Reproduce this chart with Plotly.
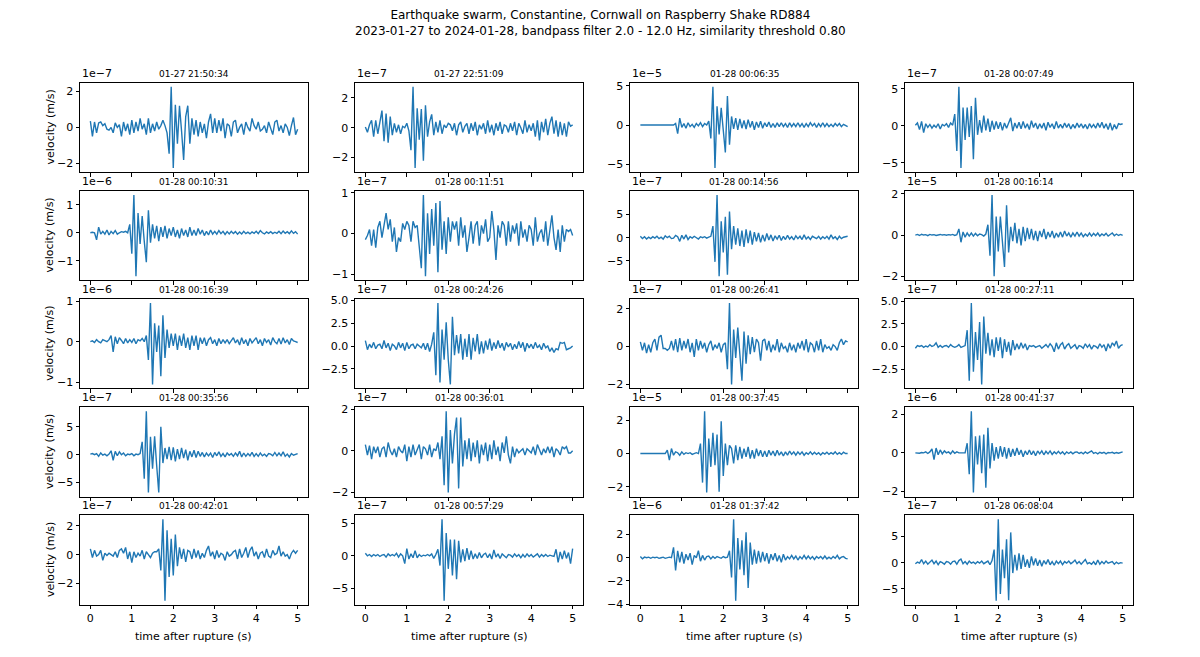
import numpy as np
import plotly.graph_objects as go

W, H = 1200, 657

suptitle = ("Earthquake swarm, Constantine, Cornwall on Raspberry Shake RD884<br>"
            "2023-01-27 to 2024-01-28, bandpass filter 2.0 - 12.0 Hz, similarity threshold 0.80")

event_times = ["01-27 21:50:34", "01-27 22:51:09", "01-28 00:06:35", "01-28 00:07:49",
               "01-28 00:10:31", "01-28 00:11:51", "01-28 00:14:56", "01-28 00:16:14",
               "01-28 00:16:39", "01-28 00:24:26", "01-28 00:26:41", "01-28 00:27:11",
               "01-28 00:35:56", "01-28 00:36:01", "01-28 00:37:45", "01-28 00:41:37",
               "01-28 00:42:01", "01-28 00:57:29", "01-28 01:37:42", "01-28 06:08:04"]

# scale exponent of each trace (values below are in units of 10**exp m/s)
exponents = [-7, -7, -5, -7, -6, -7, -7, -5, -6, -7, -7, -7, -7, -7, -5, -6, -7, -7, -6, -7]

# y tick values (in scaled units) and labels
yticks = [[-2, 0, 2], [-2, 0, 2], [-5, 0, 5], [-5, 0, 5],
          [-1, 0, 1], [-1, 0, 1], [-5, 0, 5], [-2, 0, 2],
          [-1, 0, 1], [-2.5, 0, 2.5, 5], [-2, 0, 2], [-2.5, 0, 2.5, 5],
          [-5, 0, 5], [-2, 0, 2], [-2, 0, 2], [-2, 0, 2],
          [-2, 0, 2], [-5, 0, 5], [-4, -2, 0, 2], [-5, 0, 5]]
ytick_labels = [["−2", "0", "2"], ["−2", "0", "2"], ["−5", "0", "5"], ["−5", "0", "5"],
                ["−1", "0", "1"], ["−1", "0", "1"], ["−5", "0", "5"], ["−2", "0", "2"],
                ["−1", "0", "1"], ["−2.5", "0.0", "2.5", "5.0"], ["−2", "0", "2"], ["−2.5", "0.0", "2.5", "5.0"],
                ["−5", "0", "5"], ["−2", "0", "2"], ["−2", "0", "2"], ["−2", "0", "2"],
                ["−2", "0", "2"], ["−5", "0", "5"], ["−4", "−2", "0", "2"], ["−5", "0", "5"]]
xticks = [0, 1, 2, 3, 4, 5]

v01 = [0.35, -0.5, 0.3, -0.3, 0.25, 0.3, 0.1, 0.2, -0.1, -0.15,
       0.0, -0.3, 0.25, 0.0, 0.15, -0.5, 0.3, -0.2, 0.2, -0.4,
       0.4, -0.3, 0.3, -0.2, 0.5, -0.1, 0.2, -0.4, 0.5, -0.3,
       0.2, -0.2, 0.3, -0.1, 0.1, 0.4, 0.1, -0.3, -1.45, 2.25,
       -2.25, 1.25, -0.9, 1.2, -0.2, -1.8, 0.6, 1.2, -0.9, 0.5,
       -0.4, 0.4, -0.5, 0.3, -0.3, 0.2, -0.6, 0.3, 0.75, -0.3,
       0.5, -0.3, 0.4, -0.2, 0.5, -0.6, 0.2, 0.1, -0.5, 0.3,
       0.4, -0.3, 0.0, 0.2, -0.4, 0.3, 0.0, -0.2, 0.5, 0.1,
       -0.1, 0.3, -0.2, -0.1, 0.1, -0.3, 0.3, 0.0, -0.4, 0.3,
       0.4, -0.2, 0.1, -0.3, 0.2, 0.0, -0.45, 0.1, 0.55, -0.4,
       -0.1]
v02 = [0.05, -0.3, 0.2, 0.5, -0.6, 0.5, -0.4, 0.4, 1.15, -0.9,
       0.95, -1.0, 0.75, -0.5, 0.3, -0.3, 0.2, -0.4, 0.1, 0.0,
       0.3, -0.2, -1.5, 2.75, -2.7, 1.3, -0.8, 1.25, -2.2, 1.5,
       -0.6, 0.4, 0.9, -0.5, 0.4, -0.3, 0.5, -0.4, 0.2, 0.0,
       0.3, 0.2, -0.2, 0.3, -0.5, 0.2, 0.4, -0.3, 0.1, 0.3,
       -0.4, 0.3, -0.2, 0.4, -0.5, 0.2, -0.1, 0.3, -0.4, 0.5,
       -0.3, 0.2, -0.5, 0.3, -0.2, 0.4, -0.4, 0.2, 0.1, -0.3,
       0.3, -0.2, 0.4, -0.5, 0.3, 0.0, -0.4, 0.5, -0.3, 0.2,
       -0.2, 0.3, -0.6, 0.5, -0.85, 0.4, -0.3, 0.6, -0.5, 0.3,
       0.75, -0.4, 0.5, -0.6, 0.4, -0.5, 0.3, -0.6, 0.4, 0.1,
       0.2]
v03 = [0.0, 0.0, 0.0, 0.0, 0.0, 0.0, 0.0, 0.0, 0.0, 0.0,
       0.0, 0.0, 0.0, 0.0, 0.0, 0.0, 0.0, 0.2, -1.1, 0.9,
       -0.3, 0.2, -0.4, 0.3, -0.2, 0.1, -0.3, 0.2, -0.1, 0.3,
       -0.2, 0.2, 0.0, 0.5, -1.7, 4.9, -5.5, 2.4, -1.2, 2.2,
       -1.0, -3.5, 3.7, -2.5, 1.1, -0.5, 0.9, -0.6, 0.8, -0.4,
       0.6, -0.5, 0.7, -0.3, 0.5, -0.6, 0.4, -0.3, 0.5, -0.4,
       0.3, -0.2, 0.4, -0.3, 0.2, -0.3, 0.3, -0.2, 0.3, -0.2,
       0.2, -0.3, 0.3, -0.2, 0.2, -0.2, 0.3, -0.2, 0.2, -0.3,
       0.2, -0.2, 0.3, -0.1, 0.2, -0.3, 0.2, -0.2, 0.3, -0.2,
       0.2, -0.2, 0.1, -0.2, 0.2, -0.1, 0.2, -0.2, 0.1, 0.0,
       -0.2]
v04 = [0.1, 0.4, -0.5, 0.6, -0.9, 0.3, -0.2, 0.2, -0.3, 0.1,
       -0.2, 0.3, -0.4, 0.2, 0.0, 0.3, -0.2, 0.4, 0.1, 1.6,
       -3.4, 5.3, -5.7, 2.5, -1.9, 2.5, -1.5, 2.7, -4.5, 3.8,
       -1.2, 0.8, -0.9, 1.4, -0.6, 1.0, -0.8, 0.7, -0.5, 0.6,
       -0.4, 0.5, -0.6, 0.4, -0.3, 0.5, 1.1, -0.7, 0.4, -0.3,
       0.5, -0.4, 0.6, -0.3, 0.3, -0.5, 0.7, -0.2, 0.4, -0.4,
       0.3, -0.3, 0.4, -0.6, 0.5, -0.2, 0.3, -0.4, 0.6, -0.3,
       0.2, -0.3, 0.4, -0.2, 0.3, -0.4, 0.2, -0.3, 0.4, -0.2,
       0.3, -0.3, 0.2, -0.4, 0.3, -0.2, 0.2, -0.3, 0.4, -0.2,
       0.5, -0.3, 0.3, -0.5, 0.4, -0.6, 0.2, -0.4, 0.3, 0.2,
       0.3]
v05 = [0.0, 0.02, 0.0, -0.25, 0.2, -0.05, 0.05, -0.05, 0.1, -0.08,
       0.05, -0.03, 0.08, -0.05, 0.0, 0.04, 0.02, 0.05, 0.0, 0.3,
       -0.75, 1.35, -1.55, 0.7, -0.4, 0.6, -0.3, -1.05, 0.8, -0.35,
       0.3, -0.2, 0.25, -0.3, 0.2, -0.15, 0.25, -0.2, 0.15, -0.1,
       0.2, -0.15, 0.1, -0.2, 0.15, -0.1, 0.1, -0.15, 0.2, -0.1,
       0.1, -0.1, 0.15, -0.05, 0.1, -0.1, 0.05, -0.08, 0.1, -0.05,
       0.05, -0.05, 0.08, -0.03, 0.05, -0.06, 0.04, -0.04, 0.05, -0.03,
       0.04, -0.05, 0.03, -0.04, 0.05, -0.03, 0.02, -0.04, 0.03, -0.02,
       0.05, -0.03, 0.08, 0.0, -0.04, 0.03, -0.02, 0.04, -0.03, 0.02,
       -0.02, 0.05, -0.03, 0.06, -0.02, 0.04, -0.03, 0.07, -0.02, 0.04,
       -0.05]
v06 = [-0.15, -0.05, 0.1, -0.3, 0.1, -0.35, 0.15, 0.3, -0.1, 0.2,
       0.5, 0.1, 0.35, -0.2, 0.15, -0.45, -0.1, -0.2, 0.25, 0.1,
       0.3, 0.2, -0.2, 0.3, 0.15, 0.2, -0.3, -0.85, 0.95, -1.05,
       0.5, -0.5, 0.6, -0.3, 0.75, -0.95, 0.8, -0.4, 0.3, -0.5,
       0.4, -0.2, 0.3, 0.1, 0.3, -0.3, 0.4, -0.1, 0.2, -0.45,
       -0.1, 0.3, -0.25, 0.2, 0.3, -0.3, 0.2, 0.0, 0.35, -0.2,
       -0.1, 0.55, 0.1, -0.65, 0.2, -0.1, 0.3, 0.2, -0.3, 0.3,
       -0.2, 0.2, 0.0, 0.25, -0.3, 0.3, -0.1, 0.1, -0.2, 0.2,
       0.1, -0.3, 0.4, -0.2, 0.0, 0.1, -0.2, 0.3, -0.3, 0.1,
       0.45, -0.1, -0.4, 0.1, -0.45, 0.2, -0.2, 0.1, 0.05, 0.1,
       -0.05]
v07 = [0.3, -0.2, 0.2, -0.3, 0.1, -0.2, 0.2, -0.1, 0.3, -0.2,
       0.1, -0.3, 0.4, 0.0, 0.3, -0.2, -0.1, 0.5, 0.2, -0.8,
       0.5, -0.3, 0.6, -0.4, 0.2, -0.1, 0.3, 0.0, -0.3, 0.2,
       0.0, 0.2, -0.1, 0.1, 0.3, 2.5, -5.2, 9.2, -8.3, 3.5,
       -3.2, 4.5, -8.0, 5.6, -2.5, 2.5, -1.5, 2.0, -1.8, 1.5,
       -2.0, 1.8, -1.2, 1.5, -1.5, 1.2, -0.8, 1.0, -1.0, 0.6,
       -0.8, 0.9, -0.5, 0.6, -0.7, 0.4, -0.3, 0.5, -0.6, 0.3,
       -0.4, 0.5, -0.3, 0.2, -0.5, 0.4, -0.2, 0.3, -0.4, 0.6,
       -0.3, 0.2, -0.4, 0.3, 0.1, -0.2, 0.3, -0.3, 0.2, -0.2,
       0.3, -0.3, 0.6, -0.2, 0.2, -0.4, 0.3, -0.2, 0.1, 0.2,
       0.3]
v08 = [0.0, 0.03, -0.02, 0.04, 0.0, 0.02, -0.03, 0.03, 0.0, 0.02,
       -0.02, 0.01, 0.03, 0.0, 0.02, -0.01, 0.02, 0.0, 0.03, -0.02,
       0.02, 0.3, -0.35, 0.15, -0.1, 0.1, -0.05, 0.1, -0.05, 0.08,
       -0.03, 0.05, 0.02, -0.05, 0.05, 0.5, -1.0, 1.95, -2.0, 0.9,
       -0.8, 0.9, -0.5, -1.55, 1.45, -0.85, 0.4, -0.3, 0.6, -0.4,
       0.3, -0.5, 0.4, -0.3, 0.35, -0.2, 0.3, -0.25, 0.2, -0.3,
       0.2, -0.1, 0.3, -0.2, 0.15, -0.1, 0.2, -0.15, 0.1, -0.1,
       0.15, -0.1, 0.2, -0.05, 0.1, -0.1, 0.1, -0.05, 0.15, -0.05,
       0.1, -0.08, 0.05, -0.05, 0.1, -0.05, 0.08, -0.03, 0.1, -0.05,
       0.05, -0.02, 0.08, -0.05, 0.03, 0.1, -0.03, 0.05, -0.02, 0.03,
       -0.02]
v09 = [0.0, 0.02, -0.02, 0.05, 0.0, -0.03, 0.05, 0.02, 0.0, 0.05,
       0.15, -0.25, 0.12, -0.05, 0.1, 0.03, -0.05, 0.08, -0.03, 0.05,
       -0.02, 0.08, -0.05, 0.05, 0.02, 0.08, 0.0, 0.15, -0.45, 0.95,
       -1.05, 0.45, -0.25, 0.4, -0.85, 0.65, -0.4, 0.3, -0.15, 0.2,
       -0.1, 0.2, -0.2, 0.15, -0.1, 0.2, -0.15, 0.1, -0.2, 0.15,
       -0.1, 0.15, -0.2, 0.1, -0.05, 0.1, -0.1, 0.05, 0.1, -0.05,
       0.05, -0.1, 0.08, -0.05, 0.05, -0.03, 0.05, -0.05, 0.03, 0.1,
       -0.03, 0.05, -0.08, 0.1, -0.05, 0.05, -0.1, 0.08, -0.03, 0.05,
       0.1, -0.05, 0.05, -0.1, 0.08, -0.02, 0.05, -0.08, 0.1, 0.0,
       -0.05, 0.08, -0.06, 0.1, -0.03, 0.05, -0.07, 0.08, 0.02, 0.0,
       -0.02]
v10 = [0.6, -0.4, 0.2, -0.2, 0.4, -0.3, 0.1, 0.2, -0.3, 0.6,
       -0.2, 0.3, -0.5, 0.2, 0.0, -0.4, 0.4, -0.2, 0.3, -0.5,
       0.4, -0.3, 0.1, 0.2, -0.3, 0.2, 0.0, -0.2, 0.3, -0.4,
       0.3, -0.6, 0.2, 1.5, -3.2, 4.7, -4.0, 1.8, -1.5, 2.6,
       -1.5, -4.2, 3.2, -1.0, 1.2, -0.8, 1.3, -1.5, 0.8, -1.2,
       1.3, -1.5, 0.9, -0.6, 1.3, -0.9, 0.5, -0.8, 0.6, -0.4,
       0.8, -0.5, 0.4, -0.3, 0.6, -0.2, 0.3, -0.5, 0.4, -0.1,
       0.3, -0.4, 0.2, -0.3, 0.5, -0.2, 0.4, -0.6, 0.3, -0.2,
       0.2, -0.3, 0.4, -0.2, 0.1, -0.4, 0.3, -0.2, 0.0, -0.6,
       -0.2, -0.7, -0.3, -0.4, 0.4, 0.3, 0.4, -0.4, -0.3, -0.2,
       0.0]
v11 = [0.25, -0.2, 0.2, -0.35, 0.1, -0.3, 0.2, 0.4, -0.2, 0.5,
       0.6, -0.1, -0.1, -0.2, -0.1, 0.3, -0.2, 0.4, -0.3, 0.45,
       -0.2, 0.3, -0.1, 0.4, -0.3, 0.2, -0.55, 0.4, -0.2, 0.3,
       -0.1, 0.2, -0.3, 0.1, 0.3, -0.2, 0.1, -0.1, 0.2, -0.3,
       0.1, 0.2, -1.2, 2.3, -2.0, 0.9, -0.6, 1.0, -0.4, -1.8,
       0.8, -0.9, 0.6, -0.4, 0.5, -0.3, 0.4, 0.2, -0.75, 0.3,
       0.4, -0.2, 0.3, -0.3, 0.1, -0.2, 0.4, -0.3, 0.2, -0.1,
       0.0, -0.3, 0.2, -0.2, 0.1, -0.3, 0.2, -0.1, 0.3, -0.2,
       0.4, -0.3, 0.2, 0.1, -0.3, 0.3, -0.2, 0.4, -0.3, 0.1,
       -0.1, 0.0, -0.2, 0.1, 0.0, -0.2, 0.2, 0.4, 0.1, 0.3,
       0.25]
v12 = [-0.2, 0.1, 0.0, 0.1, -0.1, 0.05, -0.05, 0.2, 0.0, 0.1,
       0.4, -0.1, 0.1, -0.1, 0.05, 0.1, -0.1, 0.2, 0.0, -0.1,
       0.0, 0.2, -0.1, 0.0, 0.1, 1.8, -3.8, 4.8, -2.8, 1.6,
       -1.5, 2.7, -4.2, 3.3, -0.8, 1.5, -1.0, 0.8, -1.2, 1.0,
       -0.5, 1.0, -1.3, 0.8, -0.6, 0.5, -1.0, 0.7, -0.4, 0.3,
       -0.3, 0.4, -0.2, 0.3, -0.4, 0.1, 0.0, 0.1, -0.1, 0.0,
       0.1, -0.2, 0.0, 0.2, -0.1, 0.3, 0.0, -0.6, 0.4, -0.3,
       0.2, 0.4, -0.3, 0.1, 0.3, -0.2, 0.0, 0.2, -0.3, 0.1,
       0.0, -0.2, 0.3, -0.1, 0.2, -0.3, 0.1, 0.0, -0.2, 0.3,
       -0.1, 0.2, -0.5, 0.3, -0.2, 0.4, 0.1, 0.6, -0.2, 0.1,
       0.2]
v13 = [0.1, 0.2, 0.0, 0.2, -0.3, 0.3, -0.1, 0.1, -0.2, 0.1,
       0.7, -1.0, 0.6, -0.2, 0.5, 0.0, 0.3, -0.2, 0.1, 0.0,
       0.2, -0.2, 0.1, 0.0, 0.2, 2.3, -4.3, 7.8, -6.8, 3.2,
       -2.5, 3.3, -2.0, -6.8, 5.0, -1.5, 1.2, -0.8, 1.4, -1.0,
       1.3, -1.2, 1.0, -0.8, 1.2, -0.6, 0.9, -1.0, 0.6, -0.4,
       0.8, -0.5, 0.6, -0.3, 0.4, -0.4, 0.3, -0.2, 0.3, -0.5,
       0.4, -0.2, 0.5, -0.3, 0.2, -0.4, 0.3, -0.1, 0.2, -0.3,
       0.3, -0.2, 0.6, -0.4, 0.3, -0.3, 0.2, -0.2, 0.4, -0.3,
       0.2, -0.3, 0.3, -0.2, 0.1, -0.3, 0.2, 0.1, -0.2, 0.4,
       -0.2, 0.3, -0.2, 0.5, -0.3, 0.1, -0.4, 0.2, -0.1, 0.0,
       0.2]
v14 = [0.3, -0.2, 0.25, -0.4, 0.2, -0.1, 0.2, -0.3, 0.1, 0.2,
       -0.3, 0.4, 0.0, -0.2, 0.1, -0.3, 0.2, 0.0, -0.1, 0.3,
       -0.5, 0.2, -0.3, 0.3, -0.2, 0.1, 0.3, -0.4, 0.2, 0.1,
       -0.2, 0.3, -0.3, 0.1, 0.0, 0.4, -0.4, 0.7, -1.65, 1.9,
       -2.0, 1.0, -0.6, 0.8, 1.6, -1.8, 1.6, -0.75, 0.5, -0.4,
       0.6, -0.5, 0.4, -0.3, 0.5, -0.6, 0.3, -0.2, 0.4, -0.5,
       0.3, -0.4, 0.5, -0.2, 0.2, -0.5, 0.4, -0.1, 0.7, -0.2,
       -0.6, 0.2, -0.3, 0.1, -0.1, 0.0, 0.1, -0.2, 0.1, 0.0,
       -0.1, 0.2, -0.2, 0.3, 0.0, -0.2, 0.1, -0.1, 0.2, -0.1,
       0.2, -0.3, 0.1, 0.0, -0.2, 0.2, 0.1, 0.2, -0.1, -0.1,
       0.0]
v15 = [0.0, 0.0, 0.0, 0.0, 0.0, 0.0, 0.0, 0.0, 0.0, 0.0,
       0.0, 0.0, 0.0, 0.2, -0.4, 0.3, -0.1, 0.1, 0.05, -0.1,
       0.1, -0.05, 0.05, 0.0, 0.05, -0.05, 0.0, 0.05, 0.0, 0.6,
       -1.75, 2.55, -2.35, 0.9, -0.8, 1.25, -0.7, 1.15, -2.3, 1.95,
       -1.35, 0.6, -0.7, 0.5, 0.3, -0.6, 0.5, -0.4, 0.4, -0.3,
       0.3, -0.2, 0.4, -0.3, 0.2, -0.3, 0.3, -0.15, 0.2, -0.2,
       0.15, -0.2, 0.2, -0.1, 0.15, -0.15, 0.2, -0.1, 0.1, -0.15,
       0.1, -0.1, 0.15, -0.05, 0.1, -0.1, 0.1, -0.05, 0.1, -0.1,
       0.05, -0.05, 0.1, -0.05, 0.08, -0.05, 0.05, -0.08, 0.05, -0.03,
       0.08, -0.05, 0.05, -0.03, 0.1, -0.05, 0.05, -0.05, 0.08, 0.0,
       0.0]
v16 = [0.0, 0.0, -0.02, 0.02, 0.0, 0.05, -0.03, 0.05, 0.2, -0.35,
       0.25, -0.1, 0.15, -0.05, 0.1, 0.0, 0.05, -0.05, 0.1, -0.02,
       0.05, 0.0, 0.0, 0.02, 0.0, 0.5, -1.1, 2.15, -2.05, 0.85,
       -0.6, 0.9, -1.05, 0.95, -1.8, 1.3, -0.8, 0.5, -0.4, 0.3,
       -0.3, 0.35, -0.2, 0.3, -0.3, 0.25, -0.2, 0.2, -0.15, 0.25,
       -0.1, 0.15, -0.2, 0.1, -0.1, 0.15, -0.1, 0.1, -0.15, 0.1,
       -0.05, 0.1, -0.1, 0.08, -0.05, 0.1, -0.08, 0.05, -0.05, 0.08,
       -0.05, 0.05, -0.08, 0.05, -0.03, 0.05, -0.05, 0.03, 0.05, -0.03,
       0.03, -0.05, 0.05, -0.03, 0.02, 0.1, -0.03, 0.02, -0.05, 0.03,
       -0.02, 0.03, -0.05, 0.02, 0.0, 0.03, -0.03, 0.02, -0.02, 0.03,
       0.05]
v17 = [0.4, -0.2, 0.3, -0.1, 0.0, 0.3, -0.4, 0.1, -0.05, 0.1,
       0.0, -0.1, 0.2, -0.2, 0.3, 0.4, 0.1, 0.5, -0.3, 0.2,
       -0.55, 0.2, -0.2, 0.1, -0.1, 0.3, -0.3, 0.2, 0.0, -0.2,
       0.1, 0.2, 0.2, 0.4, -1.1, 2.45, -3.2, 1.7, -1.55, 1.1,
       -1.45, 1.4, -0.8, 0.5, -0.3, 0.4, -0.5, 0.3, 0.2, -0.3,
       0.4, -0.2, 0.3, -0.3, 0.1, -0.2, 0.3, 0.6, -0.1, 0.2,
       -0.3, 0.3, -0.2, 0.1, 0.0, -0.4, 0.2, -0.1, 0.0, 0.2,
       0.3, -0.3, 0.4, -0.2, 0.1, 0.5, -0.2, 0.3, 0.55, -0.1,
       0.2, -0.3, 0.1, 0.2, -0.2, 0.4, -0.1, -0.2, 0.3, 0.0,
       0.1, 0.6, -0.1, 0.2, -0.1, 0.0, -0.3, 0.1, 0.3, 0.1,
       0.3]
v18 = [0.4, 0.0, 0.2, -0.1, 0.2, 0.0, 0.2, -0.1, 0.1, 0.2,
       -0.2, 0.3, 0.0, 0.2, 0.0, 0.4, -0.2, 0.3, 0.0, -1.2,
       1.1, -0.5, 0.3, -0.3, 0.8, -0.3, 0.2, -0.1, 0.1, 0.0,
       0.2, 0.0, 0.3, -0.4, 0.2, 1.0, -1.5, 5.6, -6.9, 3.5,
       -2.0, 2.5, -3.0, 2.5, -3.6, 2.3, -1.0, 1.0, -0.8, 1.2,
       -0.6, 0.8, -0.5, 0.3, -0.4, 0.5, -0.3, 0.2, 0.4, -0.3,
       0.3, -0.5, 0.9, -0.2, 0.3, -0.4, 0.3, 0.0, -0.3, 0.2,
       0.1, -0.2, 0.3, -0.1, 0.2, -0.3, 0.2, -0.2, 0.3, -0.1,
       0.2, -0.2, 0.1, 0.3, -0.2, 0.2, -0.1, 0.2, -0.1, 0.1,
       0.0, -0.1, 1.0, -1.0, 0.6, -0.5, 0.8, -0.4, 0.5, -1.2,
       1.1]
v19 = [0.1, -0.1, 0.05, 0.0, 0.05, -0.05, 0.05, 0.0, 0.05, -0.05,
       0.0, 0.05, -0.05, 0.02, 0.05, 0.0, 0.9, -1.1, 0.6, -0.4,
       0.5, -0.5, 0.3, -0.2, 0.4, -0.6, 0.2, 0.0, 0.6, -0.3,
       0.2, -0.2, 0.1, 0.15, -0.1, 0.1, -0.05, 0.1, 0.0, -0.05,
       0.1, 0.0, 0.05, 0.6, -1.7, 3.3, -3.7, 1.7, -1.0, 1.5,
       -1.5, 2.2, -2.6, 1.3, -0.6, 0.7, -0.5, 0.6, -0.4, 0.5,
       -0.3, 0.4, -0.5, 0.3, -0.2, 0.4, -0.3, 0.2, -0.4, 0.3,
       -0.2, 0.1, -0.1, 0.2, -0.1, 0.15, -0.2, 0.1, -0.1, 0.2,
       -0.1, 0.15, -0.1, 0.1, -0.15, 0.1, -0.05, 0.1, -0.1, 0.15,
       -0.1, 0.05, -0.1, 0.1, -0.05, 0.2, -0.1, 0.05, 0.1, -0.05,
       -0.1]
v20 = [-0.2, 0.1, -0.1, 0.6, -0.2, 0.3, -0.3, 0.2, 0.5, -0.2,
       0.3, -0.4, 0.2, 0.0, -0.3, 0.2, 0.1, -0.3, 0.2, 0.3,
       -0.3, 0.4, 0.7, -0.2, 0.2, -0.3, 0.3, -0.1, 0.1, -0.2,
       0.2, -0.1, 0.3, -0.2, 0.1, 0.3, -0.4, 0.4, 2.5, -7.3,
       8.3, -6.0, 2.5, -3.0, 4.5, -7.2, 5.8, -2.0, 1.5, -1.5,
       1.8, -1.2, 1.5, -0.8, 0.6, -1.0, 1.2, -0.5, 0.8, -0.6,
       0.5, -0.7, 0.4, -0.3, 0.6, -0.4, 0.2, -0.5, 0.3, -0.2,
       0.3, -0.4, 0.2, -0.1, 0.3, -0.2, 0.1, 0.5, -0.2, 0.2,
       -0.3, 0.1, 0.6, -0.2, 0.0, -0.3, 0.2, -0.4, 0.5, -0.3,
       0.2, -0.2, 0.3, -0.1, 0.0, 0.2, -0.3, 0.1, -0.2, 0.0,
       -0.1]

waveforms = [v01, v02, v03, v04, v05, v06, v07, v08, v09, v10,
             v11, v12, v13, v14, v15, v16, v17, v18, v19, v20]

# ---------------- layout geometry (pixels) ----------------
COL_LEFT = [80, 355, 630, 905]
COL_W = 228
ROW_TOP = [79, 189, 299, 409, 519]
ROW_H = 91

FONT = "DejaVu Sans"
LINE = "#1f77b4"


def px_x(x):
    return x / W


def px_y(y):
    return 1 - y / H


fig = go.Figure()
annotations = []
layout_axes = {}

for k, vals in enumerate(waveforms):
    r, c = divmod(k, 4)
    vals = np.asarray(vals, dtype=float)
    t = np.linspace(0, 5, len(vals))
    xname = "x" if k == 0 else f"x{k + 1}"
    yname = "y" if k == 0 else f"y{k + 1}"
    xkey = "xaxis" if k == 0 else f"xaxis{k + 1}"
    ykey = "yaxis" if k == 0 else f"yaxis{k + 1}"

    fig.add_trace(go.Scatter(x=t, y=vals, mode="lines", xaxis=xname, yaxis=yname,
                             line=dict(color=LINE, width=1.4), showlegend=False,
                             hoverinfo="skip"))

    x0 = COL_LEFT[c]
    x1 = x0 + COL_W
    y0 = ROW_TOP[r]
    y1 = y0 + ROW_H
    lo, hi = vals.min(), vals.max()
    span = hi - lo
    yr = [lo - 0.05 * span, hi + 0.05 * span]

    common = dict(showline=True, linecolor="black", linewidth=1, mirror=True,
                  ticks="outside", ticklen=3.5, tickwidth=1, tickcolor="black",
                  showgrid=False, zeroline=False,
                  tickfont=dict(family=FONT, size=11, color="black"))
    layout_axes[xkey] = dict(common, domain=[px_x(x0), px_x(x1)], range=[-0.25, 5.25],
                             anchor=yname, tickmode="array", tickvals=xticks,
                             ticktext=[str(v) for v in xticks],
                             showticklabels=(r == 4))
    layout_axes[ykey] = dict(common, domain=[px_y(y1), px_y(y0)], range=yr,
                             anchor=xname, tickmode="array", tickvals=yticks[k],
                             ticktext=ytick_labels[k])

    # subplot title
    annotations.append(dict(text=event_times[k], x=px_x((x0 + x1) / 2), y=px_y(y0 - 2),
                            xref="paper", yref="paper", xanchor="center", yanchor="bottom",
                            showarrow=False, font=dict(family=FONT, size=9, color="black")))
    # offset (scale) text
    annotations.append(dict(text=f"1e−{-exponents[k]}", x=px_x(x0), y=px_y(y0 - 1),
                            xref="paper", yref="paper", xanchor="left", yanchor="bottom",
                            showarrow=False, font=dict(family=FONT, size=11, color="black")))
    if c == 0:
        annotations.append(dict(text="velocity (m/s)", x=px_x(50), y=px_y(y0 + ROW_H / 2),
                                xref="paper", yref="paper", xanchor="center", yanchor="middle",
                                textangle=-90, showarrow=False,
                                font=dict(family=FONT, size=11, color="black")))
    if r == 4:
        annotations.append(dict(text="time after rupture (s)", x=px_x((x0 + x1) / 2),
                                y=px_y(642), xref="paper", yref="paper",
                                xanchor="center", yanchor="middle", showarrow=False,
                                font=dict(family=FONT, size=11, color="black")))

annotations.append(dict(text=suptitle, x=0.5, y=px_y(1), xref="paper", yref="paper",
                        xanchor="center", yanchor="top", showarrow=False, align="center",
                        font=dict(family=FONT, size=12, color="black")))

fig.update_layout(width=W, height=H, margin=dict(l=0, r=0, t=0, b=0),
                  paper_bgcolor="white", plot_bgcolor="white",
                  annotations=annotations, **layout_axes)

fig.write_html("out.html")
